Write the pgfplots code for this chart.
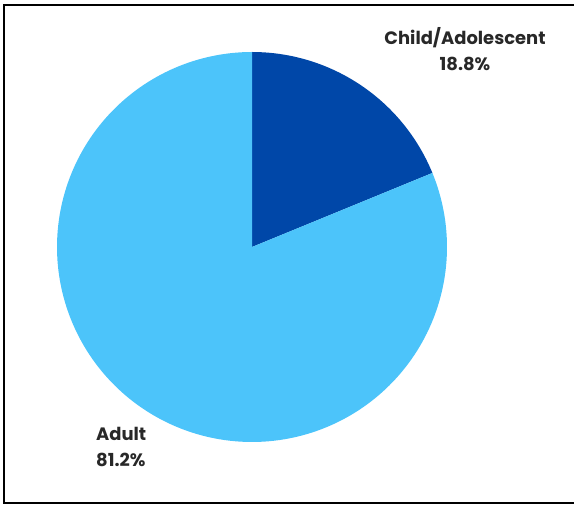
\documentclass[border=0pt]{standalone}
\usepackage{pgfplots}
\pgfplotsset{compat=1.18}
\usepackage{fontspec}
\setmainfont{Poppins}
\definecolor{darkb}{RGB}{0,71,168}
\definecolor{lightb}{RGB}{76,196,250}
\definecolor{txt}{RGB}{40,40,40}
\begin{document}
\begin{tikzpicture}
\begin{axis}[
  at={(0,0)}, anchor=south west,
  width=574bp, height=506bp, scale only axis,
  xmin=0, xmax=574, ymin=0, ymax=506,
  hide axis, clip=false,
]
% values (percent), drawn clockwise from 12 o'clock
\def\vChild{18.8}
\def\vAdult{81.2}
\def\cx{252}\def\cy{259}\def\r{195}
\pgfmathsetmacro{\aA}{90}
\pgfmathsetmacro{\aB}{90-3.6*\vChild}
\pgfmathsetmacro{\aC}{\aB-3.6*\vAdult}
\addplot[draw=none, fill=darkb, domain=\aB:\aA, samples=80]
  ({\cx+\r*cos(x)},{\cy+\r*sin(x)}) -- (axis cs:\cx,\cy) -- cycle;
\addplot[draw=none, fill=lightb, domain=\aC:\aB, samples=200]
  ({\cx+\r*cos(x)},{\cy+\r*sin(x)}) -- (axis cs:\cx,\cy) -- cycle;
\node[font=\bfseries\fontsize{18}{20}\selectfont, text=txt] at (axis cs:465,468) {Child/Adolescent};
\node[font=\bfseries\fontsize{18}{20}\selectfont, text=txt] at (axis cs:465,442) {18.8\%};
\node[font=\bfseries\fontsize{18}{20}\selectfont, text=txt, anchor=west, inner sep=0pt] at (axis cs:96,72) {Adult};
\node[font=\bfseries\fontsize{18}{20}\selectfont, text=txt, anchor=west, inner sep=0pt] at (axis cs:96,46) {81.2\%};
\draw[line width=2.5bp] (axis cs:574,501) -- (axis cs:4,501) -- (axis cs:4,3) -- (axis cs:574,3);
\end{axis}
\pgfresetboundingbox
\path[use as bounding box] (0,0) rectangle (574bp,506bp);
\end{tikzpicture}
\end{document}
